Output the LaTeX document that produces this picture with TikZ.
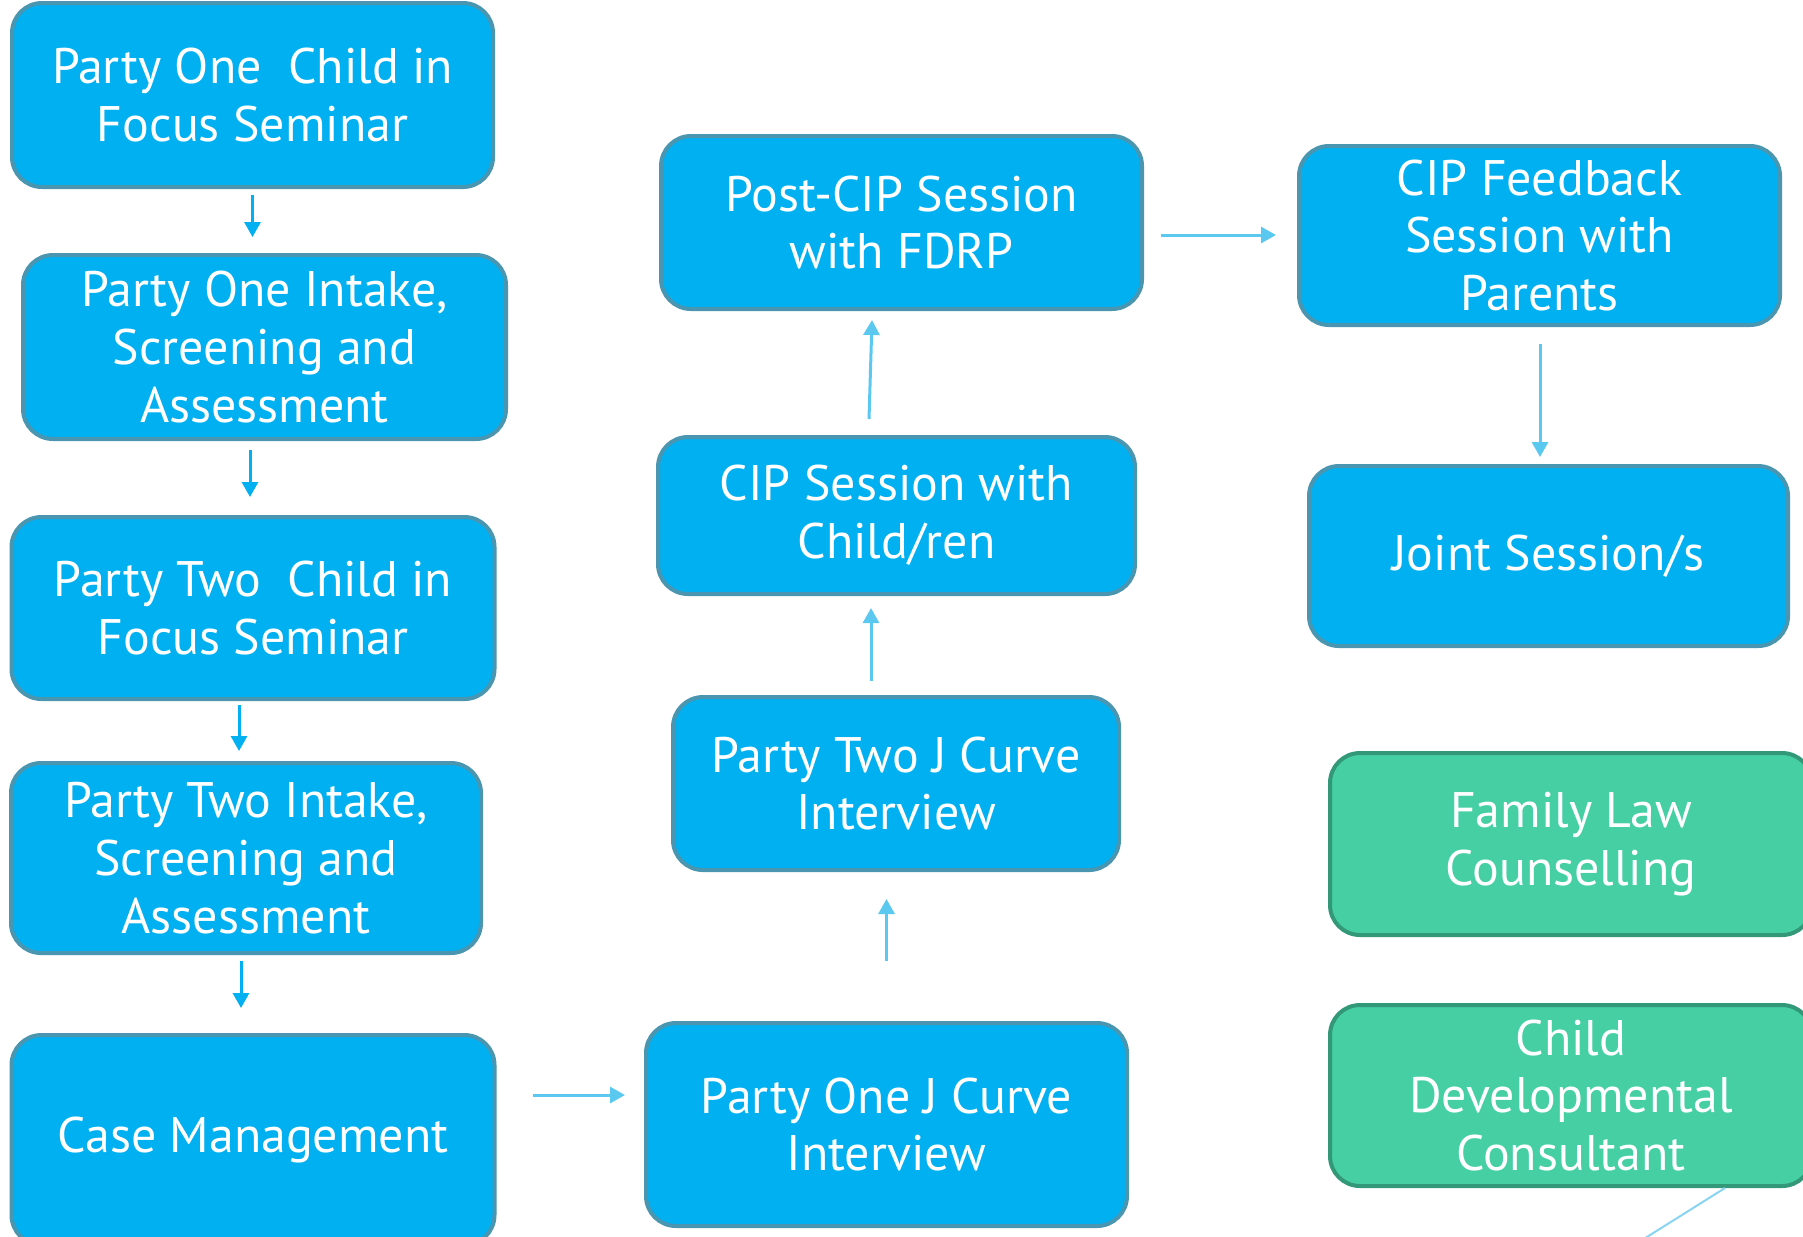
\documentclass[tikz,border=0pt]{standalone}
\usepackage{fontspec}
\setmainfont{PT Sans}
\usepackage{tikz}
\usetikzlibrary{positioning}
\usetikzlibrary{arrows.meta}
\usetikzlibrary{calc}

\definecolor{boxblue}{HTML}{00B0F0}
\definecolor{boxline}{HTML}{4A95B0}
\definecolor{boxgreen}{HTML}{45CFA3}
\definecolor{greenline}{HTML}{339878}
\definecolor{darkarrow}{HTML}{00B0F0}
\definecolor{lightarrow}{HTML}{5BC8EF}
\definecolor{tailline}{HTML}{8AD4F2}

\tikzset{
  stage/.style={rounded corners=3mm, draw=boxline, fill=boxblue, line width=0.4mm,
    text=white, align=center, inner sep=0pt,
    font=\fontsize{14.2}{16.4}\selectfont},
  support/.style={stage, draw=greenline, fill=boxgreen},
  darr/.style={draw=darkarrow, line width=0.3mm, -{Triangle[width=1.6mm,length=1.5mm]}},
  larr/.style={darr, draw=lightarrow}
}

\begin{document}
\begin{tikzpicture}[x=0.1mm, y=-0.1mm]
	\useasboundingbox (0,0) rectangle (1803,1236);
	\clip (0,0) rectangle (1803,1236);

	% Left column
	\node[stage, minimum width=48.1mm, minimum height=18.4mm] (a) at (252.5,95) {Party One\ \ Child in\\Focus Seminar};
	\node[stage, minimum width=48.3mm, minimum height=18.4mm] (b) at (264.5,347) {Party One Intake,\\Screening and\\Assessment};
	\node[stage, minimum width=48.3mm, minimum height=18.2mm] (c) at (253,608) {Party Two\ \ Child in\\Focus Seminar};
	\node[stage, minimum width=47.0mm, minimum height=19.0mm] (d) at (246,858) {Party Two Intake,\\Screening and\\Assessment};
	\node[stage, minimum width=48.3mm, minimum height=21.0mm] (e) at (253,1140) {Case Management};

	% Middle column
	\node[stage, minimum width=48.1mm, minimum height=20.3mm] (f) at (886.5,1124.5) {Party One J Curve\\Interview};
	\node[stage, minimum width=44.6mm, minimum height=17.3mm] (g) at (896,783.5) {Party Two J Curve\\Interview};
	\node[stage, minimum width=47.7mm, minimum height=15.7mm] (h) at (896.5,515.5) {CIP Session with\\Child/ren};
	\node[stage, minimum width=48.1mm, minimum height=17.3mm] (i) at (901.5,222.5) {Post-CIP Session\\with FDRP};

	% Right column
	\node[stage, minimum width=48.1mm, minimum height=17.9mm] (j) at (1539.5,235.5) {CIP Feedback\\Session with\\Parents};
	\node[stage, minimum width=47.9mm, minimum height=18.0mm] (k) at (1548.5,556) {Joint Session/s};
	\node[support, minimum width=48.2mm, minimum height=18.2mm] (l) at (1571,844) {Family Law\\Counselling};
	\node[support, minimum width=48.2mm, minimum height=18.1mm] (m) at (1571,1095.5) {Child\\Developmental\\Consultant};
	\coordinate (tail) at (1599,1267);

	% Draw the arrows
	\draw[darr] ($(a.south)+(0,6)$) -- ($(a.south |- b.north)+(0,-16)$);
	\draw[darr] ($(c.north |- b.south)+(-3,9)$) -- ($(c.north)+(-3,-18)$);
	\draw[darr] ($(d.north |- c.south)+(-7,4)$) -- ($(d.north)+(-7,-10)$);
	\draw[darr] ($(d.south)+(-5,6)$) -- ($(d.south |- e.north)+(-5,-25)$);
	\draw[larr] ($(e.east)+(36,-45)$) -- ($(e.east -| f.west)+(-19,-45)$);
	\draw[larr] ($(f.north)+(0,-60)$) -- ($(f.north |- g.south)+(0,27)$);
	\draw[larr] ($(g.north)+(-25,-14)$) -- ($(g.north |- h.south)+(-25,12)$);
	\draw[larr] ($(h.north)+(-27.5,-16)$) -- ($(i.south)+(-29.5,9)$);
	\draw[larr] ($(i.east)+(17,12.5)$) -- ($(i.east -| j.west)+(-21,12.5)$);
	\draw[larr] ($(j.south)+(0.5,16.5)$) -- ($(j.south |- k.north)+(0.5,-7)$);
	\draw[tailline, line width=0.2mm] (m.-31) -- (tail);
\end{tikzpicture}
\end{document}
